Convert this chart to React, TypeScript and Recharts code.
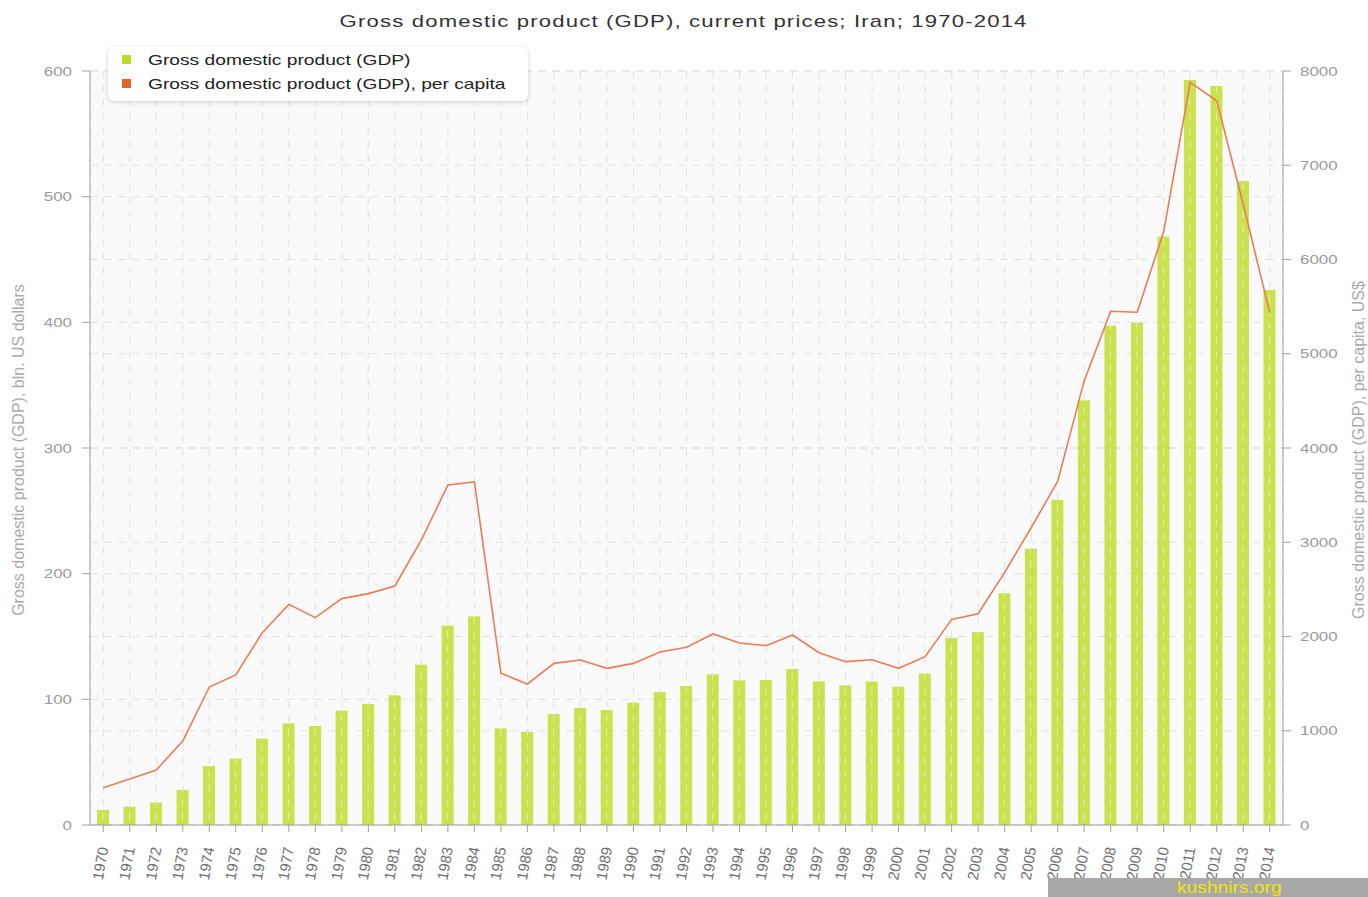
import React from "react";
import {
  ComposedChart,
  Bar,
  Line,
  XAxis,
  YAxis,
  CartesianGrid
} from "recharts";

/* ---------- DATA ---------- */

const years = [
  "1970","1971","1972","1973","1974","1975","1976","1977","1978","1979",
  "1980","1981","1982","1983","1984","1985","1986","1987","1988","1989",
  "1990","1991","1992","1993","1994","1995","1996","1997","1998","1999",
  "2000","2001","2002","2003","2004","2005","2006","2007","2008","2009",
  "2010","2011","2012","2013","2014"
];

// bln. US dollars
const gdp = [
  12, 14.6, 17.7, 27.9, 46.9, 52.8, 68.7, 80.9, 78.8, 91,
  96.3, 103.2, 127.6, 158.6, 166, 76.9, 74, 88.3, 93.1, 91.5,
  97.3, 105.8, 110.6, 119.9, 115.1, 115.4, 124.1, 114.3, 111.1, 114.3,
  110.1, 120.4, 148.8, 153.5, 184.4, 219.9, 258.8, 337.9, 397.3, 399.7,
  468.2, 592.9, 588.1, 512.5, 425.8
];

// US$ per capita
const perCapita = [
  396, 488, 584, 891, 1464, 1592, 2041, 2341, 2200, 2402,
  2455, 2536, 3024, 3607, 3640, 1610, 1496, 1715, 1751, 1662,
  1715, 1836, 1885, 2027, 1931, 1903, 2016, 1828, 1733, 1754,
  1662, 1786, 2182, 2242, 2680, 3154, 3646, 4712, 5451, 5441,
  6296, 7879, 7684, 6586, 5436
];

const leftTicks = [0, 100, 200, 300, 400, 500, 600];
const rightTicks = [0, 1000, 2000, 3000, 4000, 5000, 6000, 7000, 8000];

const seriesNames = [
  "Gross domestic product (GDP)",
  "Gross domestic product (GDP), per capita"
];

const chartData = years.map((year, i) => ({
  year,
  gdp: gdp[i],
  perCapita: perCapita[i]
}));

/* ---------- STYLE ---------- */

const FONT = "'Liberation Sans', Arial, sans-serif";
const BAR_COLOR = "#c4df3c";
const LINE_COLOR = "#ee7b55";
const AXIS_COLOR = "#a0a0a0";
const GRID_COLOR = "#e2e2e2";

/* ---------- TICKS ---------- */

function LeftTick({ x, y, payload }: any) {
  return (
    <text
      transform={`translate(${x},${y}) scale(1.3,1)`}
      textAnchor="end"
      dy="0.35em"
      fill="#9a9a9a"
      fontSize={13}
      fontFamily={FONT}
    >
      {payload.value}
    </text>
  );
}

function RightTick({ x, y, payload }: any) {
  return (
    <text
      transform={`translate(${x},${y}) scale(1.3,1)`}
      textAnchor="start"
      dy="0.35em"
      fill="#9a9a9a"
      fontSize={13}
      fontFamily={FONT}
    >
      {payload.value}
    </text>
  );
}

function YearTick({ x, y, payload }: any) {
  return (
    <g transform={`translate(${x},${y + 13})`}>
      <text
        transform="rotate(-80)"
        textAnchor="end"
        dy="0.35em"
        fill="#707070"
        fontSize={15}
        fontFamily={FONT}
      >
        {payload.value}
      </text>
    </g>
  );
}

/* ---------- BAR WITH GRID LINE ON TOP ---------- */

function GridBar(props: any) {
  const { x, y, width, height, fill, fillOpacity, background } = props;
  if (!height || height <= 0) return null;
  const cx = x + width / 2;
  const top = background ? background.y : 71;
  return (
    <g>
      <rect x={x} y={y} width={width} height={height} fill={fill} fillOpacity={fillOpacity} />
      <line
        x1={cx}
        x2={cx}
        y1={y}
        y2={y + height}
        stroke="rgba(255,255,255,0.55)"
        strokeDasharray="7 7"
        strokeDashoffset={y - top}
      />
    </g>
  );
}

/* ---------- AXIS TITLES ---------- */

function LeftTitle({ viewBox }: any) {
  const cx = viewBox.x + 18;
  const cy = viewBox.y + viewBox.height / 2 + 2;
  return (
    <text
      x={cx}
      y={cy}
      transform={`rotate(-90,${cx},${cy})`}
      textAnchor="middle"
      dy="0.35em"
      fill="#aaa"
      fontSize={16}
      fontFamily={FONT}
    >
      Gross domestic product (GDP), bln. US dollars
    </text>
  );
}

function RightTitle({ viewBox }: any) {
  const cx = viewBox.x + 75;
  const cy = viewBox.y + viewBox.height / 2 + 2;
  return (
    <text
      x={cx}
      y={cy}
      transform={`rotate(-90,${cx},${cy})`}
      textAnchor="middle"
      dy="0.35em"
      fill="#aaa"
      fontSize={16}
      fontFamily={FONT}
    >
      Gross domestic product (GDP), per capita, US$
    </text>
  );
}

/* ---------- LEGEND ---------- */

function LegendBox() {
  const colors = ["#b9dc2c", "#e5622a"];
  return (
    <div
      style={{
        position: "absolute",
        left: 108,
        top: 47,
        background: "#fff",
        borderRadius: 6,
        boxShadow: "0 1px 4px rgba(0,0,0,0.18)",
        padding: "0px 10px 6px 14px",
        width: 396,
        fontFamily: FONT,
        zIndex: 2
      }}
    >
      {seriesNames.map((name, i) => (
        <div
          key={name}
          style={{ display: "flex", alignItems: "center", height: 24 }}
        >
          <span
            style={{
              width: 9,
              height: 9,
              background: colors[i],
              display: "inline-block",
              marginRight: 17
            }}
          />
          <span
            style={{
              fontSize: 15,
              color: "#222",
              display: "inline-block",
              transform: "scaleX(1.28)",
              transformOrigin: "left center",
              whiteSpace: "nowrap"
            }}
          >
            {name}
          </span>
        </div>
      ))}
    </div>
  );
}

export default function App() {
  return (
    <div
      style={{
        position: "absolute",
        left: 0,
        top: 0,
        width: 1368,
        height: 897,
        background: "#fff",
        overflow: "hidden",
        fontFamily: FONT
      }}
    >
      {/* TITLE */}

      <div
        style={{
          position: "absolute",
          top: 12,
          left: 0,
          width: 1368,
          textAlign: "center",
          fontSize: 17,
          color: "#333",
          zIndex: 2
        }}
      >
        <span
          style={{
            display: "inline-block",
            transform: "scaleX(1.3)",
            letterSpacing: 0.9
          }}
        >
          Gross domestic product (GDP), current prices; Iran; 1970-2014
        </span>
      </div>

      {/* CHART */}

      <ComposedChart
        width={1368}
        height={897}
        data={chartData}
        margin={{ top: 71, right: 0, left: 0, bottom: 0 }}
        barCategoryGap={0}
      >
        <CartesianGrid
          yAxisId="left"
          vertical={false}
          stroke={GRID_COLOR}
          strokeDasharray="8 6"
          fill="#fafafa"
        />
        <CartesianGrid
          yAxisId="right"
          vertical={false}
          stroke={GRID_COLOR}
          strokeDasharray="8 6"
        />
        <CartesianGrid
          yAxisId="left"
          horizontal={false}
          stroke="#e0e0e0"
          strokeDasharray="7 7"
        />

        <XAxis
          dataKey="year"
          interval={0}
          height={72}
          tickSize={7}
          tickLine={{ stroke: AXIS_COLOR }}
          axisLine={{ stroke: AXIS_COLOR }}
          tick={<YearTick />}
        />
        <YAxis
          yAxisId="left"
          domain={[0, 600]}
          ticks={leftTicks}
          width={90}
          tickSize={8}
          tickMargin={10}
          tickLine={{ stroke: AXIS_COLOR }}
          axisLine={{ stroke: AXIS_COLOR }}
          tick={<LeftTick />}
          label={LeftTitle}
        />
        <YAxis
          yAxisId="right"
          orientation="right"
          domain={[0, 8000]}
          ticks={rightTicks}
          width={85}
          tickSize={8}
          tickMargin={9}
          tickLine={{ stroke: AXIS_COLOR }}
          axisLine={{ stroke: AXIS_COLOR }}
          tick={<RightTick />}
          label={RightTitle}
        />

        <Bar
          yAxisId="left"
          dataKey="gdp"
          name={seriesNames[0]}
          fill={BAR_COLOR}
          fillOpacity={0.9}
          barSize={12}
          shape={<GridBar />}
          isAnimationActive={false}
        />

        <Line
          yAxisId="right"
          type="linear"
          dataKey="perCapita"
          name={seriesNames[1]}
          stroke={LINE_COLOR}
          strokeWidth={1.6}
          dot={false}
          activeDot={false}
          isAnimationActive={false}
        />
      </ComposedChart>

      {/* LEGEND */}

      <LegendBox />

      {/* WATERMARK */}

      <div
        style={{
          position: "absolute",
          left: 1048,
          top: 878,
          width: 320,
          height: 19,
          background: "#a8a8a8",
          zIndex: 2
        }}
      >
        <span
          style={{
            position: "absolute",
            left: 129,
            top: 0,
            fontSize: 16,
            lineHeight: "19px",
            color: "#f3e600",
            display: "inline-block",
            transform: "scaleX(1.2)",
            transformOrigin: "left center"
          }}
        >
          kushnirs.org
        </span>
      </div>
    </div>
  );
}
